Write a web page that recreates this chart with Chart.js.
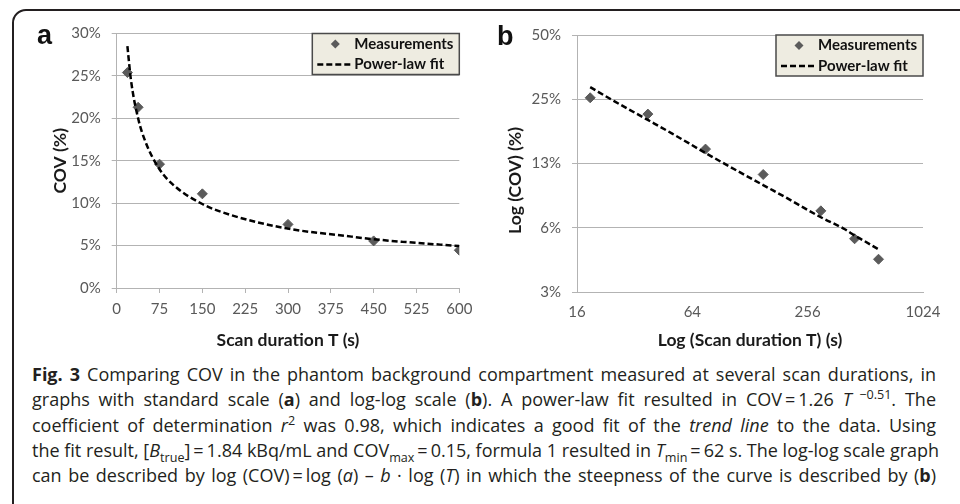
<!DOCTYPE html>
<html>
<head>
<meta charset="utf-8">
<script src="https://cdn.jsdelivr.net/npm/chart.js@4.4.0/dist/chart.umd.min.js"></script>
<style>
  html, body { margin: 0; padding: 0; background: #fff; }
  body { width: 960px; height: 504px; overflow: hidden; position: relative; font-family: 'Open Sans', sans-serif; }
  #frame { position: absolute; left: 12px; top: 9px; width: 1000px; height: 600px; border: 2px solid #231f20; border-radius: 14px; box-sizing: border-box; }
  .panel { position: absolute; top: 0; width: 480px; height: 360px; }
  #panelA { left: 0; }
  #panelB { left: 480px; }
  .tag { position: absolute; font: bold 27px 'Liberation Sans', Arial, sans-serif; line-height: 27px; color: #111; }
  #caption { position: absolute; left: 32px; top: 362px; width: 904px; font-size: 18px; color: #231f20; }
  #caption div { height: 25.3px; line-height: 25.3px; white-space: nowrap; text-align: justify; text-align-last: justify; }
  sup, sub { font-size: 0.7em; line-height: 0; }
</style>
</head>
<body>
<div id="frame"></div>
<div class="panel" id="panelA"><canvas id="chartA" width="480" height="360"></canvas></div>
<div class="panel" id="panelB"><canvas id="chartB" width="480" height="360"></canvas></div>
<div class="tag" style="left:37px; top:22px;">a</div>
<div class="tag" style="left:497px; top:23px;">b</div>
<div id="caption">
  <div><b>Fig. 3</b> Comparing COV in the phantom background compartment measured at several scan durations, in</div>
  <div>graphs with standard scale (<b>a</b>) and log-log scale (<b>b</b>). A power-law fit resulted in COV&thinsp;=&thinsp;1.26 <i>T</i><sup> −0.51</sup>. The</div>
  <div>coefficient of determination <i>r</i><sup>2</sup> was 0.98, which indicates a good fit of the <i>trend line</i> to the data. Using</div>
  <div>the fit result, [<i>B</i><sub>true</sub>]&thinsp;=&thinsp;1.84 kBq/mL and COV<sub>max</sub>&thinsp;=&thinsp;0.15, formula 1 resulted in <i>T</i><sub>min</sub>&thinsp;=&thinsp;62 s. The log-log scale graph</div>
  <div>can be described by log (COV)&thinsp;=&thinsp;log (<i>a</i>) – <i>b</i> · log (<i>T</i>) in which the steepness of the curve is described by (<b>b</b>)</div>
</div>
<script>
// Measured COV (%) per scan duration T (s)
const SCAN_T = [18.75, 37.5, 75, 150, 300, 450, 600];
const COV_MEAS = [25.4, 21.3, 14.6, 11.1, 7.5, 5.55, 4.45];

// Dashed power-law curve, sampled off the figure
const FIT_T = [18.75, 25, 37.5, 50, 75, 100, 150, 200, 300, 400, 450, 500, 600];
const FIT_COV = [28.5, 24.5, 20.0, 17.3, 14.0, 12.1, 9.9, 8.6, 7.0, 6.15, 5.75, 5.45, 4.95];

// Axis ticks
const A_X_TICKS = [0, 75, 150, 225, 300, 375, 450, 525, 600];
const A_Y_TICKS = [0, 5, 10, 15, 20, 25, 30];
const B_X_TICKS = [16, 64, 256, 1024];
const B_X_LABELS = ['16', '64', '256', '1024'];
const B_Y_TICKS = [3.125, 6.25, 12.5, 25, 50];
const B_Y_LABELS = ['3%', '6%', '13%', '25%', '50%'];

const GRID = '#b3b3b3';
const TICK_COLOR = '#595959';
const TITLE_COLOR = '#1a1a1a';
const MARK_COLOR = '#5b5b5b';

Chart.defaults.font.family = 'Lato';

function toPoints(xs, ys) {
    return xs.map((x, i) => ({ x: x, y: ys[i] }));
}

function makeDatasets() {
    return [
        {
            label: 'Measurements',
            data: toPoints(SCAN_T, COV_MEAS),
            pointStyle: 'rectRot',
            pointRadius: 5,
            backgroundColor: MARK_COLOR,
            borderColor: MARK_COLOR,
            borderWidth: 1,
            showLine: false,
            order: 2
        },
        {
            label: 'Power-law fit',
            data: toPoints(FIT_T, FIT_COV),
            showLine: true,
            borderColor: '#000',
            borderWidth: 2.5,
            borderDash: [6, 3],
            pointRadius: 0,
            cubicInterpolationMode: 'monotone',
            order: 1
        }
    ];
}

// Excel-style legend box in the top-right corner of the plot area
const legendBox = {
    id: 'legendBox',
    afterDraw(chart) {
        const { ctx, chartArea } = chart;
        const w = 147, h = 41;
        const x0 = chartArea.right - w, y0 = chartArea.top;
        const meas = chart.data.datasets[0];
        const fit = chart.data.datasets[1];
        ctx.save();
        ctx.fillStyle = '#eeece1';
        ctx.fillRect(x0, y0, w, h);
        ctx.strokeStyle = '#4a4a4a';
        ctx.lineWidth = 1.5;
        ctx.strokeRect(x0, y0, w, h);

        // diamond
        const dx = x0 + 23, dy = y0 + 10.5, r = 4.5;
        ctx.fillStyle = meas.backgroundColor;
        ctx.beginPath();
        ctx.moveTo(dx, dy - r);
        ctx.lineTo(dx + r, dy);
        ctx.lineTo(dx, dy + r);
        ctx.lineTo(dx - r, dy);
        ctx.closePath();
        ctx.fill();

        // dashed line
        ctx.strokeStyle = fit.borderColor;
        ctx.lineWidth = fit.borderWidth;
        ctx.setLineDash(fit.borderDash);
        ctx.beginPath();
        ctx.moveTo(x0 + 5, y0 + 31);
        ctx.lineTo(x0 + 41, y0 + 31);
        ctx.stroke();
        ctx.setLineDash([]);

        ctx.fillStyle = '#111';
        ctx.font = 'bold 15px Lato';
        ctx.textBaseline = 'middle';
        ctx.fillText(meas.label, x0 + 42, dy);
        ctx.fillText(fit.label, x0 + 42, y0 + 31);
        ctx.restore();
    }
};

function tickFont() {
    return { size: 15 };
}

function titleFont() {
    return { size: 17.5, weight: 'bold' };
}

// a: standard scale
new Chart(document.getElementById('chartA'), {
    type: 'scatter',
    data: { datasets: makeDatasets() },
    options: {
        responsive: false,
        animation: false,
        layout: { padding: { left: 0, top: 33.5, right: 20.7, bottom: 0 } },
        plugins: { legend: { display: false }, tooltip: { enabled: false } },
        scales: {
            x: {
                type: 'linear',
                min: A_X_TICKS[0],
                max: A_X_TICKS[A_X_TICKS.length - 1],
                afterBuildTicks: (s) => { s.ticks = A_X_TICKS.map(v => ({ value: v })); },
                ticks: { color: TICK_COLOR, padding: 7, font: tickFont(), maxRotation: 0 },
                grid: { drawOnChartArea: false, tickLength: 5, color: GRID },
                border: { color: GRID },
                title: { display: true, text: 'Scan duration T (s)', color: TITLE_COLOR, font: titleFont(), padding: { top: 0, bottom: 9.5 } },
                afterFit: (s) => { s.height = 72; }
            },
            y: {
                min: A_Y_TICKS[0],
                max: A_Y_TICKS[A_Y_TICKS.length - 1],
                afterBuildTicks: (s) => { s.ticks = A_Y_TICKS.map(v => ({ value: v })); },
                ticks: { color: TICK_COLOR, padding: 11, font: tickFont(), callback: (v) => v + '%' },
                grid: { tickLength: 5, color: GRID },
                border: { color: GRID },
                title: { display: true, text: 'COV (%)', color: TITLE_COLOR, font: titleFont(), padding: { top: 49.5, bottom: 0 } },
                afterFit: (s) => { s.width = 116.7; }
            }
        }
    },
    plugins: [legendBox]
});

// b: log-log scale
new Chart(document.getElementById('chartB'), {
    type: 'scatter',
    data: { datasets: makeDatasets() },
    options: {
        responsive: false,
        animation: false,
        layout: { padding: { left: 0, top: 35, right: 37, bottom: 0 } },
        plugins: { legend: { display: false }, tooltip: { enabled: false } },
        scales: {
            x: {
                type: 'logarithmic',
                min: B_X_TICKS[0],
                max: B_X_TICKS[B_X_TICKS.length - 1],
                afterBuildTicks: (s) => { s.ticks = B_X_TICKS.map(v => ({ value: v })); },
                ticks: { color: TICK_COLOR, padding: 11.5, font: tickFont(), maxRotation: 0, callback: (v, i) => B_X_LABELS[i] },
                grid: { drawOnChartArea: false, drawTicks: false, color: GRID },
                border: { color: GRID },
                title: { display: true, text: 'Log (Scan duration T) (s)', color: TITLE_COLOR, font: titleFont(), padding: { top: 0, bottom: 9.5 } },
                afterFit: (s) => { s.height = 68; }
            },
            y: {
                type: 'logarithmic',
                min: B_Y_TICKS[0],
                max: B_Y_TICKS[B_Y_TICKS.length - 1],
                afterBuildTicks: (s) => { s.ticks = B_Y_TICKS.map(v => ({ value: v })); },
                ticks: { color: TICK_COLOR, padding: 11, font: tickFont(), callback: (v, i) => B_Y_LABELS[i] },
                grid: { tickLength: 5, color: GRID },
                border: { color: GRID },
                // trailing spaces push the title below the axis centre, as in the figure
                title: { display: true, text: 'Log (COV) (%)\u00a0\u00a0\u00a0\u00a0\u00a0\u00a0\u00a0\u00a0', color: TITLE_COLOR, font: titleFont(), padding: { top: 25, bottom: 0 } },
                afterFit: (s) => { s.width = 97; }
            }
        }
    },
    plugins: [legendBox]
});
</script>
</body>
</html>
